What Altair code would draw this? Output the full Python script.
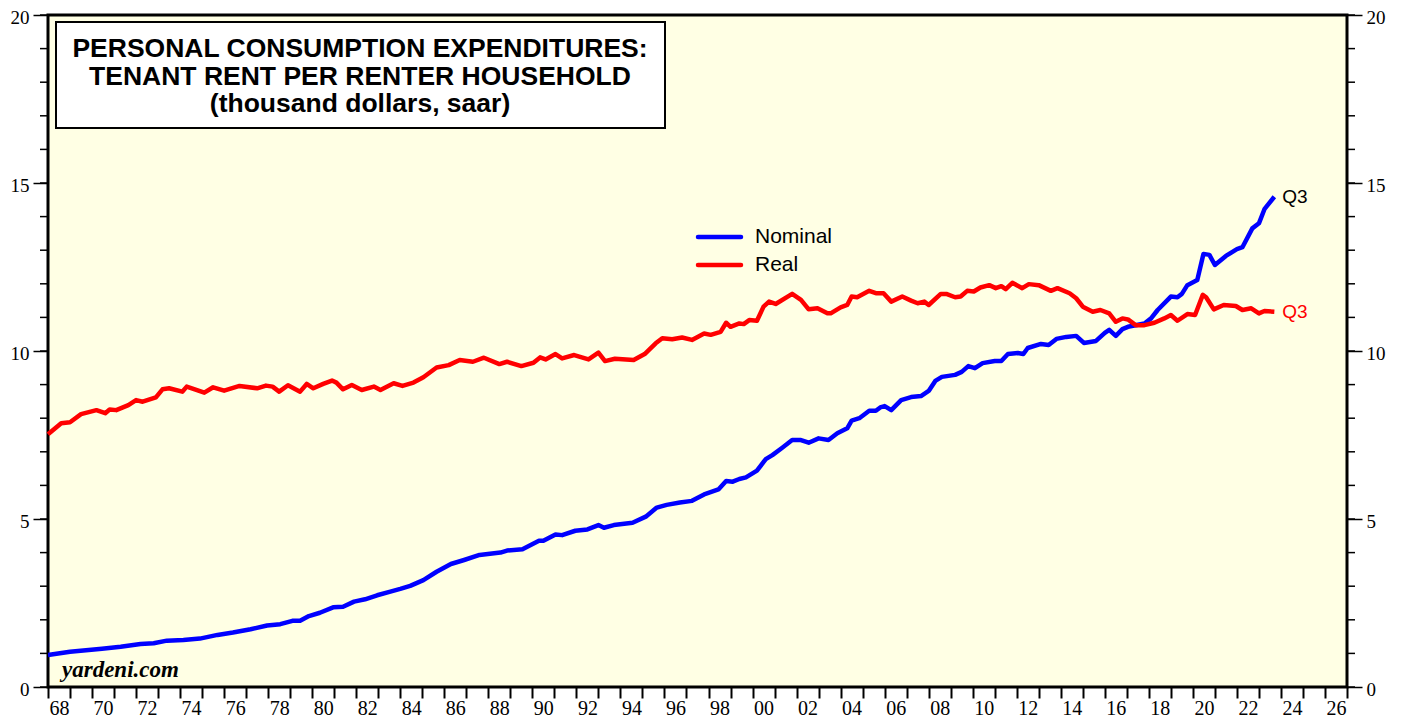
import altair as alt
import pandas as pd

# ---------------- data ----------------
nominal_t = [1968.0, 1969.0, 1970.45, 1971.3, 1972.2, 1972.8, 1973.4, 1974.15, 1974.9, 1975.7,
             1976.4, 1977.2, 1977.95, 1978.55, 1979.1, 1979.45, 1979.85, 1980.35, 1980.95, 1981.4,
             1981.9, 1982.4, 1982.95, 1983.55, 1984.0, 1984.45, 1985.05, 1985.65, 1986.3, 1986.9,
             1987.6, 1988.55, 1988.85, 1989.55, 1990.3, 1990.5, 1991.05, 1991.35, 1991.95, 1992.5,
             1993.0, 1993.25, 1993.7, 1994.55, 1995.15, 1995.65, 1996.1, 1996.7, 1997.25, 1997.8,
             1998.45, 1998.8, 1999.1, 1999.4, 1999.7, 2000.2, 2000.6, 2000.9, 2001.35, 2001.8,
             2002.2, 2002.55, 2003.0, 2003.45, 2003.85, 2004.3, 2004.5, 2004.85, 2005.3, 2005.6,
             2005.8, 2006.0, 2006.3, 2006.75, 2007.2, 2007.65, 2008.0, 2008.3, 2008.6, 2009.2,
             2009.5, 2009.8, 2010.1, 2010.45, 2011.0, 2011.3, 2011.6, 2012.05, 2012.3, 2012.5,
             2013.1, 2013.45, 2013.8, 2014.25, 2014.7, 2015.05, 2015.6, 2016.0, 2016.2, 2016.5,
             2016.8, 2017.05, 2017.8, 2018.1, 2018.4, 2019.0, 2019.3, 2019.5, 2019.75, 2020.2,
             2020.48, 2020.75, 2021.0, 2021.5, 2022.0, 2022.25, 2022.7, 2023.0, 2023.25, 2023.7]
nominal_v = [0.95, 1.05, 1.14, 1.20, 1.28, 1.30, 1.38, 1.40, 1.44, 1.55,
             1.62, 1.72, 1.83, 1.87, 1.97, 1.97, 2.11, 2.21, 2.37, 2.39,
             2.54, 2.61, 2.73, 2.84, 2.92, 3.01, 3.18, 3.43, 3.66, 3.78,
             3.93, 4.00, 4.06, 4.10, 4.35, 4.35, 4.54, 4.52, 4.65, 4.69,
             4.82, 4.74, 4.82, 4.89, 5.07, 5.34, 5.42, 5.49, 5.54, 5.73,
             5.88, 6.13, 6.11, 6.19, 6.24, 6.44, 6.78, 6.90, 7.12, 7.35,
             7.35, 7.27, 7.40, 7.35, 7.55, 7.70, 7.93, 8.00, 8.22, 8.22,
             8.32, 8.36, 8.24, 8.54, 8.63, 8.66, 8.81, 9.11, 9.23, 9.29,
             9.38, 9.55, 9.49, 9.64, 9.70, 9.70, 9.91, 9.94, 9.91, 10.09,
             10.21, 10.18, 10.36, 10.42, 10.45, 10.24, 10.30, 10.54, 10.63, 10.45,
             10.65, 10.72, 10.82, 10.97, 11.22, 11.62, 11.60, 11.70, 11.96, 12.11,
             12.89, 12.86, 12.56, 12.83, 13.03, 13.09, 13.65, 13.80, 14.22, 14.59]

real_t = [1968.0, 1968.6, 1969.0, 1969.5, 1970.2, 1970.6, 1970.8, 1971.1, 1971.65, 1972.0,
          1972.3, 1972.9, 1973.2, 1973.5, 1974.1, 1974.3, 1975.1, 1975.5, 1976.0, 1976.7,
          1977.5, 1977.9, 1978.2, 1978.5, 1978.9, 1979.45, 1979.75, 1980.05, 1980.5, 1980.9,
          1981.1, 1981.4, 1981.8, 1982.25, 1982.8, 1983.1, 1983.7, 1984.1, 1984.6, 1985.05,
          1985.65, 1986.2, 1986.7, 1987.3, 1987.8, 1988.5, 1988.85, 1989.5, 1990.05, 1990.35,
          1990.6, 1991.05, 1991.35, 1991.9, 1992.55, 1993.0, 1993.3, 1993.75, 1994.6, 1995.1,
          1995.6, 1995.9, 1996.35, 1996.8, 1997.25, 1997.8, 1998.1, 1998.55, 1998.8, 1999.0,
          1999.4, 1999.6, 1999.85, 2000.2, 2000.5, 2000.75, 2001.05, 2001.8, 2002.2, 2002.55,
          2002.95, 2003.4, 2003.55, 2004.0, 2004.3, 2004.5, 2004.75, 2005.3, 2005.6, 2005.95,
          2006.3, 2006.8, 2007.2, 2007.5, 2007.8, 2008.0, 2008.55, 2008.8, 2009.2, 2009.45,
          2009.75, 2010.05, 2010.35, 2010.75, 2011.05, 2011.3, 2011.5, 2011.8, 2012.25, 2012.55,
          2013.0, 2013.55, 2013.85, 2014.4, 2014.7, 2015.0, 2015.45, 2015.8, 2016.2, 2016.5,
          2016.8, 2017.05, 2017.4, 2017.8, 2018.25, 2018.7, 2019.0, 2019.3, 2019.75, 2020.1,
          2020.45, 2020.6, 2020.95, 2021.4, 2021.95, 2022.25, 2022.65, 2023.0, 2023.25, 2023.7]
real_v = [7.52, 7.85, 7.88, 8.12, 8.24, 8.15, 8.26, 8.24, 8.39, 8.54,
          8.49, 8.62, 8.86, 8.89, 8.79, 8.94, 8.76, 8.92, 8.82, 8.96,
          8.89, 8.97, 8.94, 8.79, 8.98, 8.79, 9.02, 8.89, 9.02, 9.12,
          9.06, 8.86, 8.99, 8.84, 8.94, 8.84, 9.04, 8.96, 9.06, 9.22,
          9.51, 9.58, 9.73, 9.68, 9.80, 9.61, 9.68, 9.55, 9.65, 9.81,
          9.75, 9.91, 9.78, 9.88, 9.75, 9.95, 9.70, 9.77, 9.73, 9.91,
          10.23, 10.38, 10.35, 10.40, 10.33, 10.52, 10.48, 10.57, 10.84, 10.72,
          10.82, 10.80, 10.92, 10.90, 11.32, 11.47, 11.40, 11.70, 11.52, 11.24,
          11.27, 11.12, 11.12, 11.30, 11.37, 11.62, 11.60, 11.79, 11.72, 11.72,
          11.47, 11.62, 11.50, 11.42, 11.47, 11.37, 11.70, 11.70, 11.60, 11.62,
          11.79, 11.77, 11.89, 11.96, 11.87, 11.93, 11.84, 12.03, 11.87, 11.99,
          11.96, 11.79, 11.87, 11.72, 11.57, 11.32, 11.17, 11.22, 11.12, 10.87,
          10.97, 10.94, 10.77, 10.77, 10.84, 10.97, 11.07, 10.90, 11.10, 11.07,
          11.67, 11.60, 11.24, 11.37, 11.34, 11.22, 11.27, 11.12, 11.19, 11.17]

series_names = ["Nominal", "Real"]
series_colors = ["#0000FF", "#FF0000"]
end_labels = ["Q3", "Q3"]
end_label_colors = ["#000000", "#FF0000"]
title_lines = ["PERSONAL CONSUMPTION EXPENDITURES:",
               "TENANT RENT PER RENTER HOUSEHOLD",
               "(thousand dollars, saar)"]
source_label = "yardeni.com"
y_major = [0, 5, 10, 15, 20]
y_minor = list(range(0, 21))
x_ticks = list(range(1968, 2028))

# ---------------- layout ----------------
W, H = 1299, 672
SERIF = "Liberation Serif"
SANS = "Liberation Sans"

df = pd.DataFrame({
    "t": nominal_t + real_t,
    "v": nominal_v + real_v,
    "series": [series_names[0]] * len(nominal_t) + [series_names[1]] * len(real_t),
})

xs = alt.Scale(domain=[1968, 2027], nice=False, zero=False)
ys = alt.Scale(domain=[0, 20], nice=False, zero=False)

x_axis = alt.Axis(
    values=x_ticks, title=None, grid=False, domain=False,
    labelExpr="datum.value % 2 == 0 ? substring(toString(datum.value), 2, 4) : ''",
    tickSize=11, tickWidth=2, tickColor="black",
    labelOffset=11, labelFont=SERIF, labelFontSize=20, labelColor="black",
    labelPadding=0, labelAngle=0, labelOverlap=False, labelFlush=False,
)
X = alt.X("t:Q", scale=xs, axis=x_axis)

def y_axis(orient):
    return alt.Axis(
        orient=orient, values=y_major, title=None, grid=False, domain=False, format="d",
        tickSize=15, tickWidth=1.5, tickColor="black",
        labelFont=SERIF, labelFontSize=19, labelColor="black", labelPadding=4,
        labelOffset=2, labelFlush=False, labelOverlap=False,
    )

lines = alt.Chart(df).mark_line(strokeWidth=4.5, strokeJoin="round").encode(
    x=X,
    y=alt.Y("v:Q", scale=ys, axis=y_axis("left")),
    color=alt.Color(
        "series:N",
        scale=alt.Scale(domain=series_names, range=series_colors),
        legend=None,
    ),
)

minor_df = pd.DataFrame({"v": y_minor})
left_minor = alt.Chart(minor_df).mark_rule(color="black", strokeWidth=1.5).encode(
    y=alt.Y("v:Q", scale=ys, axis=None),
    x=alt.value(-8), x2=alt.value(0),
)
right_minor = alt.Chart(minor_df).mark_rule(color="black", strokeWidth=1.5).encode(
    y=alt.Y("v:Q", scale=ys, axis=y_axis("right")),
    x=alt.value(W), x2=alt.value(W + 8),
)

end_layers = []
for i, (ts, vs) in enumerate([(nominal_t, nominal_v), (real_t, real_v)]):
    edf = pd.DataFrame({"t": [ts[-1]], "v": [vs[-1]], "lab": [end_labels[i]]})
    end_layers.append(
        alt.Chart(edf).mark_text(
            align="left", baseline="middle", dx=8, font=SANS, fontSize=19,
            color=end_label_colors[i],
        ).encode(x=X, y=alt.Y("v:Q", scale=ys, axis=None), text="lab:N")
    )

one = pd.DataFrame({"a": [0]})

# manual legend (inside the plot)
legend_layers = []
for i, name in enumerate(series_names):
    ly = 222 + 28 * i
    legend_layers.append(
        alt.Chart(one).mark_rule(color=series_colors[i], strokeWidth=4.5, strokeCap="round").encode(
            x=alt.value(650), x2=alt.value(693), y=alt.value(ly)
        )
    )
    legend_layers.append(
        alt.Chart(one).mark_text(
            text=name, align="left", baseline="middle", font=SANS, fontSize=21, color="black"
        ).encode(x=alt.value(707), y=alt.value(ly))
    )

title_box = alt.Chart(one).mark_rect(fill="white", stroke="black", strokeWidth=2).encode(
    x=alt.value(8), x2=alt.value(617), y=alt.value(7), y2=alt.value(113)
)
title_text = alt.Chart(one).mark_text(
    text=title_lines, align="center", baseline="alphabetic", font=SANS,
    fontSize=26.5, fontWeight="bold", lineHeight=27.5, color="black",
).encode(x=alt.value(312), y=alt.value(42))

source_text = alt.Chart(one).mark_text(
    text=source_label, align="left", baseline="alphabetic", font=SERIF,
    fontSize=23, fontWeight="bold", fontStyle="italic", color="black",
).encode(x=alt.value(14), y=alt.value(662))

chart = alt.layer(
    lines, left_minor, right_minor, *end_layers, *legend_layers,
    title_box, title_text, source_text
).resolve_scale(y="independent").properties(
    width=W, height=H,
    autosize=alt.AutoSizeParams(type="none"),
    padding={"left": 40, "top": 7, "right": 50, "bottom": 34},
    background="white",
).configure_view(
    stroke="black", strokeWidth=3, fill="#FFFFE4"
)

chart.save("out.html", embed_options={"renderer": "svg", "actions": False})
